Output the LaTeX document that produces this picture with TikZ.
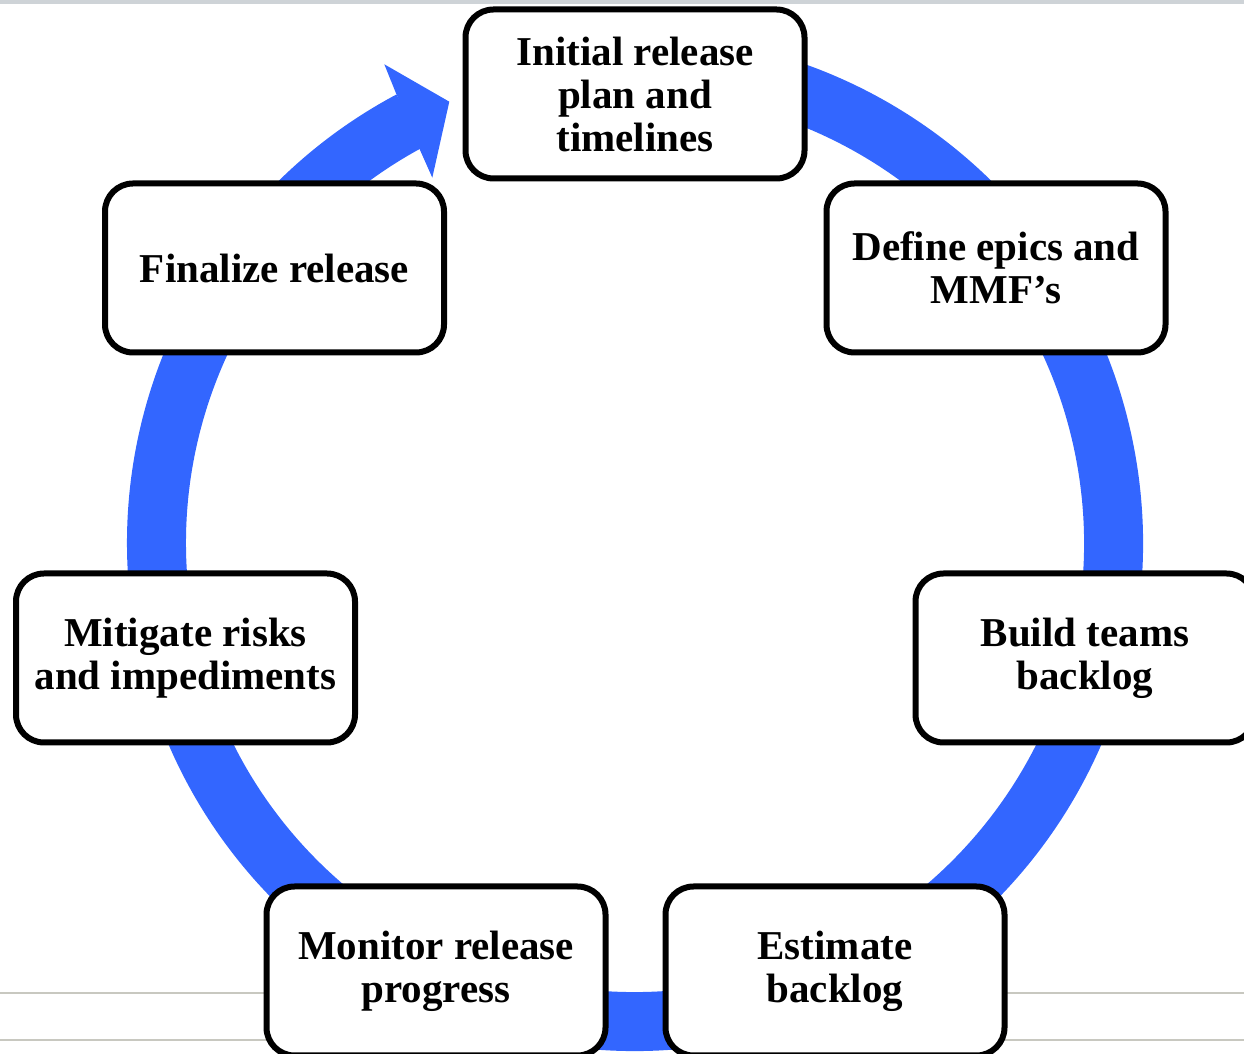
\documentclass[tikz,border=0pt]{standalone}
\usepackage{fontspec}
\setmainfont{Liberation Serif}
\definecolor{ringblue}{RGB}{51,102,255}
\definecolor{topbar}{RGB}{206,211,215}
\definecolor{rule}{RGB}{200,200,192}
\tikzset{
  stepbox/.style={draw=black, line width=6pt, rounded corners=28pt, fill=white,
    minimum width=339pt, minimum height=169pt, align=center, inner sep=0pt,
    font=\fontsize{41pt}{43pt}\selectfont\bfseries},
  ring/.style={draw=ringblue, line width=59pt},
  bgrule/.style={draw=rule, line width=2.5pt}
}
\begin{document}
\begin{tikzpicture}[x=1pt,y=1pt]
\useasboundingbox (0,0) rectangle (1244,1054);
\begin{scope}
\clip (0,0) rectangle (1244,1054);
% background lines
\fill[topbar] (0,1050) rectangle (1244,1054);
\coordinate (r1a) at (0,61); \coordinate (r1b) at (1244,61);
\coordinate (r2a) at (0,14); \coordinate (r2b) at (1244,14);
\draw[bgrule] (r1a) -- (r1b);
\draw[bgrule] (r2a) -- (r2b);
% ring
\coordinate (c) at (635,511);
\draw[ring] ([shift={(c)}]100:478.5) arc[start angle=100, end angle=-242, radius=478.5];
% arrow head
\coordinate (w1) at (384.3,989.7);
\coordinate (tip) at (449.3,952.3);
\coordinate (w2) at (432.3,876.3);
\coordinate (n2) at (420,904);
\coordinate (n1) at (396,960.7);
\fill[ringblue] (n1) -- (w1) -- (tip) -- (w2) -- (n2) -- cycle;
% boxes
\node[stepbox] (init) at (635,960) {Initial release\\plan and\\timelines};
\node[stepbox] (define) at (996,786) {Define epics and\\MMF’s};
\node[stepbox] (build) at (1085,396) {Build teams\\backlog};
\node[stepbox] (estimate) at (835,83) {Estimate\\backlog};
\node[stepbox] (monitor) at (436,83) {Monitor release\\progress};
\node[stepbox] (mitigate) at (185.5,396) {Mitigate risks\\and impediments};
\node[stepbox] (final) at (274.5,786) {Finalize release};
\end{scope}
\end{tikzpicture}
\end{document}
